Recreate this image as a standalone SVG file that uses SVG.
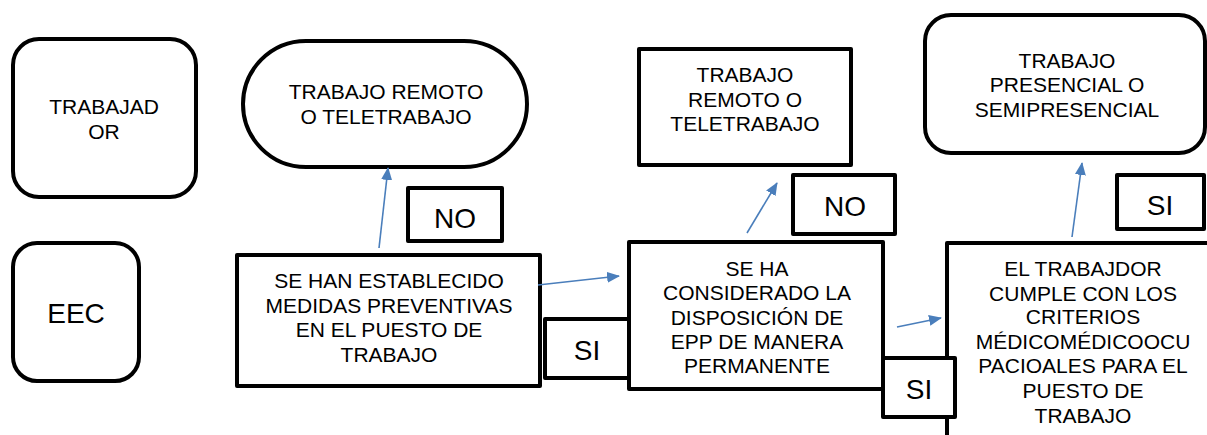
<svg xmlns="http://www.w3.org/2000/svg" width="1207" height="435" viewBox="0 0 1207 435">
<style>
.box{fill:#fff;stroke:#000;stroke-width:4;stroke-linejoin:round}
.t{font-family:"Liberation Sans",Arial,sans-serif;font-size:21px;fill:#000;text-anchor:middle}
.big{font-family:"Liberation Sans",Arial,sans-serif;font-size:28px;fill:#000;text-anchor:middle}
.arr{stroke:#4a7ebb;stroke-width:1.6;fill:none;marker-end:url(#ah)}
</style>
<defs>
<marker id="ah" viewBox="0 0 13 11" refX="12" refY="5.5" markerWidth="13" markerHeight="11" markerUnits="userSpaceOnUse" orient="auto">
<path d="M0,0 L13,5.5 L0,11 z" fill="#4a7ebb"/>
</marker>
</defs>
<rect width="1207" height="435" fill="#fff"/>
<g id="trabajador">
<rect class="box" x="13" y="39" width="183" height="158" rx="26"/>
<text class="t" x="104" y="114">TRABAJAD</text>
<text class="t" x="104" y="139">OR</text>
</g>
<g id="eec">
<rect class="box" x="13" y="243" width="126" height="138" rx="24"/>
<text class="big" x="76" y="323">EEC</text>
</g>
<g id="remoto1">
<rect class="box" x="243" y="41" width="284" height="126" rx="63"/>
<text class="t" x="386" y="99">TRABAJO REMOTO</text>
<text class="t" x="386" y="124">O TELETRABAJO</text>
</g>
<g id="no1">
<rect class="box" x="408" y="188" width="94" height="53"/>
<text class="big" x="455" y="228">NO</text>
</g>
<g id="medidas">
<rect class="box" x="237" y="255" width="303" height="131"/>
<text class="t" x="389" y="288">SE HAN ESTABLECIDO</text>
<text class="t" x="389" y="313">MEDIDAS PREVENTIVAS</text>
<text class="t" x="389" y="337">EN EL PUESTO DE</text>
<text class="t" x="389" y="362">TRABAJO</text>
</g>
<g id="si1">
<rect class="box" x="545" y="319" width="84" height="59"/>
<text class="big" x="587" y="360">SI</text>
</g>
<g id="remoto2">
<rect class="box" x="639" y="49" width="212" height="116"/>
<text class="t" x="745" y="82">TRABAJO</text>
<text class="t" x="745" y="107">REMOTO O</text>
<text class="t" x="745" y="131">TELETRABAJO</text>
</g>
<g id="no2">
<rect class="box" x="793" y="175" width="102" height="59"/>
<text class="big" x="845" y="216">NO</text>
</g>
<g id="epp">
<rect class="box" x="629" y="242" width="254" height="147"/>
<text class="t" x="757" y="276">SE HA</text>
<text class="t" x="757" y="300">CONSIDERADO LA</text>
<text class="t" x="757" y="325">DISPOSICIÓN DE</text>
<text class="t" x="757" y="349">EPP DE MANERA</text>
<text class="t" x="757" y="373">PERMANENTE</text>
</g>
<g id="presencial">
<rect class="box" x="925" y="15" width="280" height="138" rx="26"/>
<text class="t" x="1067" y="68">TRABAJO</text>
<text class="t" x="1067" y="92">PRESENCIAL O</text>
<text class="t" x="1067" y="117">SEMIPRESENCIAL</text>
</g>
<g id="si3">
<rect class="box" x="1117" y="175" width="87" height="54"/>
<text class="big" x="1160" y="215">SI</text>
</g>
<g id="criterios">
<rect class="box" x="947" y="243" width="300" height="230"/>
<text class="t" x="1083" y="276">EL TRABAJDOR</text>
<text class="t" x="1083" y="301">CUMPLE CON LOS</text>
<text class="t" x="1083" y="324">CRITERIOS</text>
<text class="t" x="1083" y="349">MÉDICOMÉDICOOCU</text>
<text class="t" x="1083" y="373">PACIOALES PARA EL</text>
<text class="t" x="1083" y="398">PUESTO DE</text>
<text class="t" x="1083" y="423">TRABAJO</text>
</g>
<g id="si2">
<rect class="box" x="883" y="358" width="72" height="59"/>
<text class="big" x="919" y="399">SI</text>
</g>
<g id="connectors">
<line class="arr" x1="379" y1="248" x2="388" y2="168"/>
<line class="arr" x1="538" y1="285" x2="619" y2="276"/>
<line class="arr" x1="747" y1="233" x2="777" y2="183"/>
<line class="arr" x1="897" y1="327" x2="941" y2="318"/>
<line class="arr" x1="1072" y1="237" x2="1082" y2="163"/>
</g>
</svg>
